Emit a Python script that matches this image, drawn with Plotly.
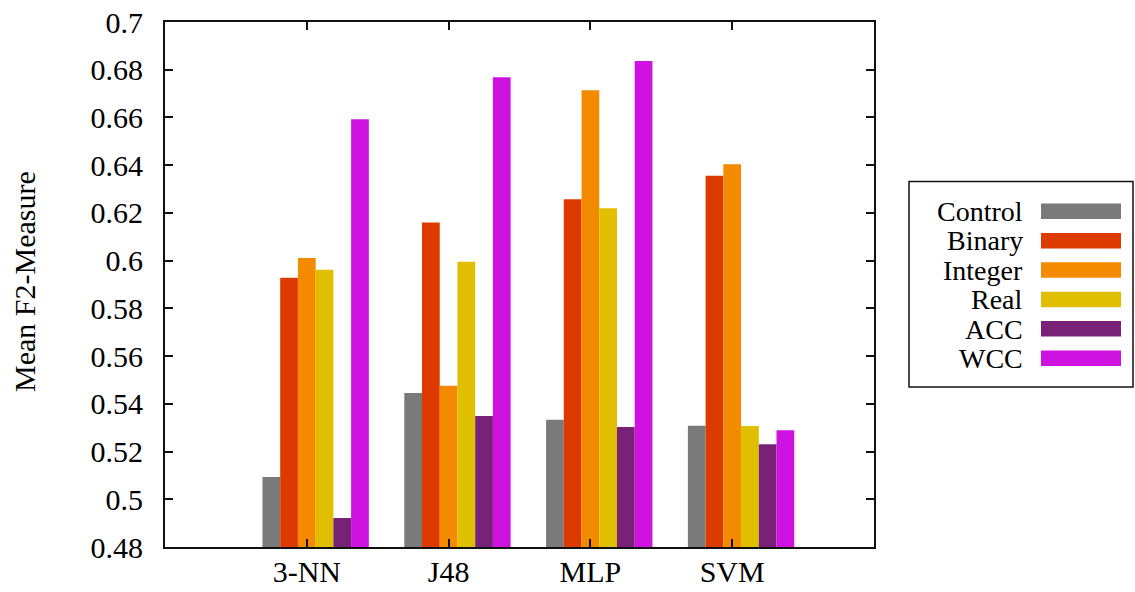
import plotly.graph_objects as go

# Classifiers on the x axis
classifiers = ["3-NN", "J48", "MLP", "SVM"]

# Mean F2-measure per encoding, one list per series (order follows classifiers)
series_names = ["Control", "Binary", "Integer", "Real", "ACC", "WCC"]
control = [0.5093, 0.5445, 0.5333, 0.5308]
binary = [0.5928, 0.6160, 0.6257, 0.6356]
integer = [0.6011, 0.5476, 0.6714, 0.6404]
real = [0.5962, 0.5995, 0.6220, 0.5307]
acc = [0.4922, 0.5349, 0.5303, 0.5231]
wcc = [0.6592, 0.6769, 0.6837, 0.5289]

series_values = [control, binary, integer, real, acc, wcc]
colors = ["#7a7a7a", "#dd3a00", "#f38a00", "#e0be00", "#772277", "#ce13e0"]

FONT = "Liberation Serif"
FONT_SIZE = 30
LEGEND_FONT_SIZE = 28
W, H = 1135, 592
ML, MR, MT, MB = 165, 261, 22, 45
PLOT_W = W - ML - MR
PLOT_H = H - MT - MB

BAR_W = 0.125  # six boxes plus a two-box gap per cluster

fig = go.Figure()
x_pos = list(range(len(classifiers)))
for i, (name, vals, col) in enumerate(zip(series_names, series_values, colors)):
    fig.add_trace(go.Bar(
        x=x_pos,
        y=vals,
        base=0,
        name=name,
        width=BAR_W,
        offset=(i - 2) * BAR_W - BAR_W / 2,
        marker=dict(color=col, line=dict(width=0)),
        showlegend=False,
    ))


def px_x(px):
    return (px - ML) / PLOT_W


def px_y(py):
    return (H - MB - py) / PLOT_H


# Legend box with right-aligned labels and colour swatches on the right
shapes = [dict(type="rect", xref="paper", yref="paper",
               x0=px_x(909), x1=px_x(1133), y0=px_y(387), y1=px_y(181.5),
               line=dict(color="#111111", width=1.5), fillcolor="white")]
annotations = []
row_top = 203.5
row_step = 29.4
for i, (name, col) in enumerate(zip(series_names, colors)):
    y0 = row_top + i * row_step
    shapes.append(dict(type="rect", xref="paper", yref="paper",
                       x0=px_x(1041), x1=px_x(1121), y0=px_y(y0 + 15.5), y1=px_y(y0),
                       line=dict(width=0), fillcolor=col))
    annotations.append(dict(xref="paper", yref="paper", x=px_x(1024), y=px_y(y0 + 8),
                            text=name, showarrow=False, xanchor="right", yanchor="middle",
                            borderpad=0,
                            font=dict(family=FONT, size=LEGEND_FONT_SIZE, color="black")))

annotations.append(dict(xref="paper", yref="paper", x=px_x(24), y=px_y(282),
                        text="Mean F2-Measure", showarrow=False, textangle=-90,
                        xanchor="center", yanchor="middle",
                        font=dict(family=FONT, size=FONT_SIZE, color="black")))

fig.update_layout(
    width=W, height=H,
    margin=dict(l=ML, r=MR, t=MT, b=MB, autoexpand=False),
    paper_bgcolor="white", plot_bgcolor="white",
    barmode="overlay",
    font=dict(family=FONT, size=FONT_SIZE, color="black"),
    shapes=shapes,
    annotations=annotations,
)
fig.update_xaxes(
    range=[-1, 4], tickvals=x_pos, ticktext=classifiers,
    showgrid=False, zeroline=False,
    showline=True, linecolor="#111111", linewidth=2, mirror="ticks",
    ticks="inside", ticklen=8, tickwidth=1.5, tickcolor="#111111",
    ticklabelstandoff=-3,
    tickfont=dict(family=FONT, size=FONT_SIZE, color="black"),
)
fig.update_yaxes(
    range=[0.48, 0.7], tick0=0.48, dtick=0.02,
    showgrid=False, zeroline=False,
    showline=True, linecolor="#111111", linewidth=2, mirror="ticks",
    ticks="inside", ticklen=8, tickwidth=1.5, tickcolor="#111111",
    ticklabelstandoff=14,
    tickfont=dict(family=FONT, size=FONT_SIZE, color="black"),
)

fig.write_html("out.html")
